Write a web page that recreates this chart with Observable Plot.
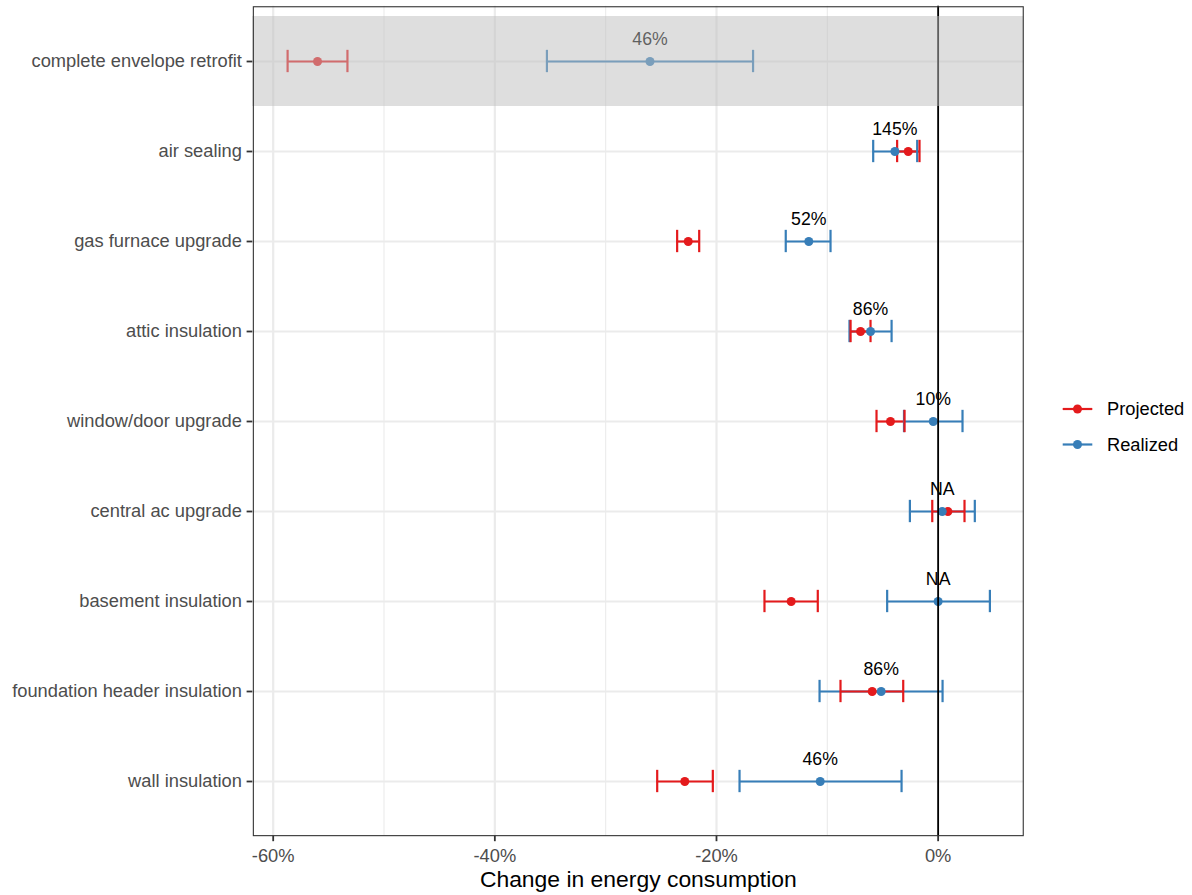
<!DOCTYPE html>
<html><head><meta charset="utf-8">
<script src="https://cdn.jsdelivr.net/npm/d3@7"></script>
<script src="https://cdn.jsdelivr.net/npm/@observablehq/plot@0.6"></script>
<style>
html,body{margin:0;padding:0;background:#fff;}
#chart{position:relative;width:1192px;height:895px;}
</style></head><body><div id="chart"></div>
<script>
const categories = ["complete envelope retrofit","air sealing","gas furnace upgrade","attic insulation","window/door upgrade","central ac upgrade","basement insulation","foundation header insulation","wall insulation"];
const projMid = [-56.0, -2.7, -22.55, -7.0, -4.3, 0.88, -13.26, -5.95, -22.86];
const projLo  = [-58.7, -3.7, -23.55, -7.9, -5.56, -0.53, -15.67, -8.81, -25.35];
const projHi  = [-53.3, -1.68, -21.56, -6.1, -3.03, 2.38, -10.86, -3.15, -20.33];
const realMid = [-26.0, -3.9, -11.67, -6.1, -0.44, 0.37, 0.0, -5.14, -10.64];
const realLo  = [-35.3, -5.86, -13.75, -8.0, -3.08, -2.55, -4.6, -10.7, -17.92];
const realHi  = [-16.7, -1.89, -9.71, -4.2, 2.2, 3.31, 4.67, 0.4, -3.3];
const labels  = ["46%","145%","52%","86%","10%","NA","NA","86%","46%"];
const seriesNames = ["Projected","Realized"];
const seriesColors = ["#e41a1c","#377eb8"];
const highlight = ["complete envelope retrofit"];
const xDomain = [-61.84, 7.73];
const majorTicks = [-60,-40,-20,0];
const minorTicks = [-50,-30,-10];
const xTitle = "Change in energy consumption";

const proj = categories.map((c,i)=>({cat:c, series:"Projected", lo:projLo[i], mid:projMid[i], hi:projHi[i]}));
const real = categories.map((c,i)=>({cat:c, series:"Realized", lo:realLo[i], mid:realMid[i], hi:realHi[i]}));
const errs = [...real, ...proj];
const pts = [...proj, ...real];
const lab = categories.map((c,i)=>({cat:c, x:realMid[i], label:labels[i]}));

const W=1192, H=895, mL=252.3, mR=168.7, mT=5.7, mB=59.3;
const step = (H-mT-mB)/9.2;
const capInset = (step - step*0.25)/2;
const fmt = d => `${d}%`;

const plot = Plot.plot({
  width:W, height:H, marginLeft:mL, marginRight:mR, marginTop:mT, marginBottom:mB,
  style:{fontFamily:"'Liberation Sans', Arial, sans-serif", background:"#fff", overflow:"visible"},
  x:{domain:xDomain},
  y:{type:"band", domain:categories, paddingInner:0, paddingOuter:0.1},
  color:{domain:seriesNames, range:seriesColors},
  marks:[
    Plot.gridX(minorTicks,{stroke:"#ebebeb", strokeOpacity:1, strokeWidth:1.1}),
    Plot.gridX(majorTicks,{stroke:"#ebebeb", strokeOpacity:1, strokeWidth:2.2}),
    Plot.gridY(categories,{stroke:"#ebebeb", strokeOpacity:1, strokeWidth:2.2}),
    Plot.ruleY(errs,{y:"cat", x1:"lo", x2:"hi", stroke:"series", strokeWidth:2.2}),
    Plot.tickX(errs,{y:"cat", x:"lo", stroke:"series", strokeWidth:2.2, insetTop:capInset, insetBottom:capInset}),
    Plot.tickX(errs,{y:"cat", x:"hi", stroke:"series", strokeWidth:2.2, insetTop:capInset, insetBottom:capInset}),
    Plot.dot(pts,{y:"cat", x:"mid", fill:"series", r:4.5, stroke:"none"}),
    Plot.text(lab,{y:"cat", x:"x", text:"label", dy:-22, fontSize:17.7, fill:"#000"}),
    Plot.ruleX([0],{stroke:"#000", strokeWidth:1.8}),
    Plot.barX(highlight,{y:d=>d, x1:()=>xDomain[0], x2:()=>xDomain[1], fill:"#bebebe", fillOpacity:0.5}),
    Plot.frame({stroke:"#333333", strokeWidth:1.1, inset:0.55}),
    Plot.axisX({ticks:majorTicks, tickFormat:fmt, tickSize:5.5, tickPadding:7.6, fontSize:18.3, color:"#4d4d4d", stroke:"#333333", strokeWidth:1.8, label:null}),
    Plot.axisY({tickSize:5.7, tickPadding:5.2, fontSize:18.3, color:"#4d4d4d", stroke:"#333333", strokeWidth:1.8, label:null}),
    Plot.text([xTitle],{frameAnchor:"bottom", lineAnchor:"middle", dy:43.5, fontSize:22.9, fill:"#000"})
  ]
});
document.getElementById("chart").appendChild(plot);

// legend
const svg = d3.select(plot);
const lg = svg.append("g").attr("font-family","'Liberation Sans', Arial, sans-serif").attr("text-anchor","start");
seriesNames.forEach((name,i)=>{
  const cy = 409 + i*35.5;
  const g = lg.append("g");
  g.append("line").attr("x1",1062.7).attr("x2",1092.3).attr("y1",cy).attr("y2",cy)
    .attr("stroke",seriesColors[i]).attr("stroke-width",2.2);
  g.append("circle").attr("cx",1077.5).attr("cy",cy).attr("r",4.5).attr("fill",seriesColors[i]);
  g.append("text").attr("x",1107).attr("y",cy).attr("dy","0.35em").attr("font-size",18.3)
    .attr("text-anchor","start").attr("fill","#000").text(name);
});
</script></body></html>
